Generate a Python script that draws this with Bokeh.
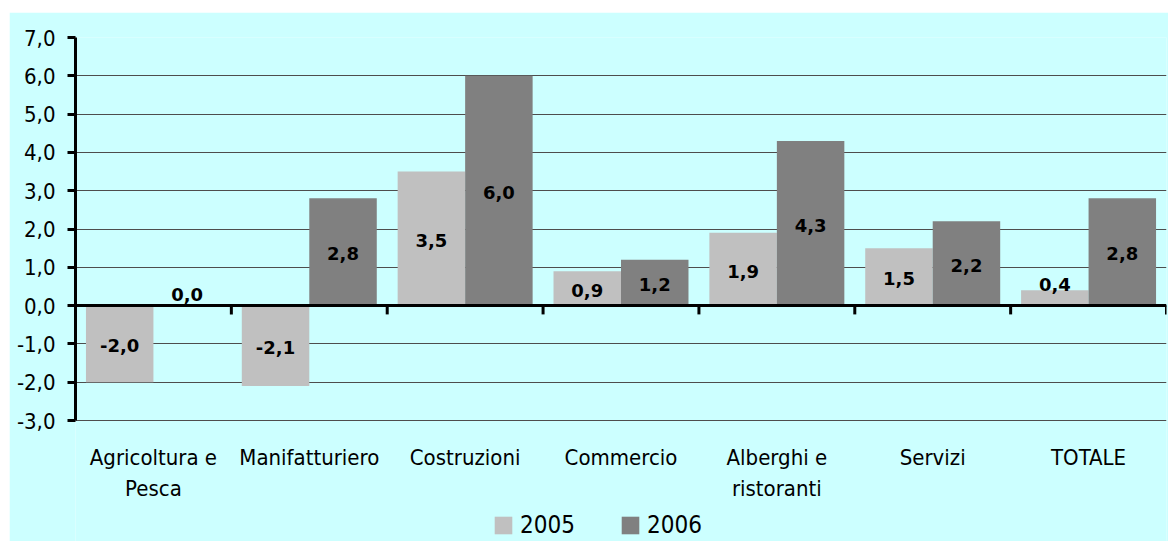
from bokeh.plotting import figure
from bokeh.models import (Range1d, FixedTicker, CustomJSTickFormatter, Span,
                          ColumnDataSource, Legend, LegendItem)
from bokeh.core.properties import value
from bokeh.embed import file_html
from bokeh.resources import INLINE

# ---- data ----
categories = ["Agricoltura e Pesca", "Manifatturiero", "Costruzioni", "Commercio",
              "Alberghi e ristoranti", "Servizi", "TOTALE"]
category_labels = ["Agricoltura e\nPesca", "Manifatturiero", "Costruzioni", "Commercio",
                   "Alberghi e\nristoranti", "Servizi", "TOTALE"]
series_names = ["2005", "2006"]
values_2005 = [-2.0, -2.1, 3.5, 0.9, 1.9, 1.5, 0.4]
values_2006 = [0.0, 2.8, 6.0, 1.2, 4.3, 2.2, 2.8]
y_ticks = [-3, -2, -1, 0, 1, 2, 3, 4, 5, 6, 7]

# ---- styles / layout ----
BG = "#CCFFFF"
COLORS = ["#C0C0C0", "#808080"]
AXIS_FONT = "DejaVu Sans Condensed"
LABEL_FONT = "DejaVu Sans"
Y_MIN, Y_MAX = y_ticks[0], y_ticks[-1]
W, H = 1159, 529
ML, MR, MT = 66, 2, 25
PLOT_H = 383                      # height of the value area (-3 .. 7)
BOTTOM_PX = H - MT - PLOT_H       # room under the value area for labels and legend
PX_PER_UNIT = PLOT_H / (Y_MAX - Y_MIN)
Y_VIEW_MIN = Y_MIN - BOTTOM_PX / PX_PER_UNIT
BAR_W = 0.433
N = len(categories)

p = figure(x_range=Range1d(0, N), y_range=Range1d(Y_VIEW_MIN, Y_MAX), x_axis_location=None,
           width=W, height=H, output_backend="svg", toolbar_location=None,
           min_border_left=ML, min_border_right=MR, min_border_top=MT, min_border_bottom=0,
           margin=(12, 0, 0, 9))
p.background_fill_color = BG
p.border_fill_color = BG
p.outline_line_color = None

# grid
p.xgrid.grid_line_color = None
p.ygrid.ticker = FixedTicker(ticks=y_ticks)
p.ygrid.grid_line_color = "#4d4d4d"
p.ygrid.grid_line_width = 1


def label_positions(vals):
    ys, offs = [], []
    for v in vals:
        vpx = abs(v) * PX_PER_UNIT
        if vpx < 24:
            desired = max(vpx + 6, 11) if v >= 0 else -max(vpx + 6, 11)
            ys.append(v)
            offs.append(-(desired - v * PX_PER_UNIT))
        else:
            ys.append(v / 2)
            offs.append(2)
    return ys, offs


fmt = lambda v: f"{v:.1f}".replace(".", ",")
centers = [i + 0.5 for i in range(N)]
y05, o05 = label_positions(values_2005)
y06, o06 = label_positions(values_2006)
src = ColumnDataSource(dict(
    cat=categories,
    x2005=[c - BAR_W / 2 for c in centers], x2006=[c + BAR_W / 2 for c in centers],
    v2005=values_2005, v2006=values_2006,
    y2005=y05, o2005=o05, t2005=[fmt(v) for v in values_2005],
    y2006=y06, o2006=o06, t2006=[fmt(v) for v in values_2006],
))

bar_renderers = []
for i, name in enumerate(series_names):
    r = p.vbar(x="x" + name, top="v" + name, bottom=0,
               width=BAR_W, source=src, fill_color=COLORS[i], line_color=None)
    bar_renderers.append(r)

for i, name in enumerate(series_names):
    p.text(x="x" + name, y="y" + name, text="t" + name,
           y_offset="o" + name, source=src,
           text_font=value(LABEL_FONT), text_font_style="bold", text_font_size="18px",
           text_align="center", text_baseline="middle", text_color="#000000")

# zero axis line and category boundary ticks
p.add_layout(Span(location=0, dimension="width", line_color="#000000", line_width=3))
bounds = list(range(1, N + 1))
p.segment(x0=bounds, y0=[0] * N, x1=bounds, y1=[-0.23] * N,
          line_color="#000000", line_width=3)

# y axis (limited to the value area)
yax = p.yaxis[0]
yax.bounds = (Y_MIN, Y_MAX)
yax.ticker = FixedTicker(ticks=y_ticks)
yax.formatter = CustomJSTickFormatter(code="return tick.toFixed(1).replace('.', ',');")
yax.axis_line_color = "#000000"
yax.axis_line_width = 3
yax.major_tick_line_color = "#000000"
yax.major_tick_line_width = 3
yax.major_tick_out = 8
yax.major_tick_in = 0
yax.minor_tick_line_color = None
yax.major_label_standoff = 12
yax.major_label_text_font = AXIS_FONT
yax.major_label_text_font_size = "22px"
yax.major_label_text_color = "#000000"

# category labels under the value area (line 1 / line 2)
line1 = [lab.split("\n")[0] for lab in category_labels]
line2 = [lab.split("\n")[1] if "\n" in lab else "" for lab in category_labels]
cat_src = ColumnDataSource(dict(x=centers, y=[Y_MIN] * N, l1=line1, l2=line2))
for col, off in (("l1", 36.5), ("l2", 67.5)):
    p.text(x="x", y="y", text=col, y_offset=off, source=cat_src,
           text_font=value(AXIS_FONT), text_font_size="22px", text_color="#000000",
           text_align="center", text_baseline="middle")

# legend
lg = Legend(items=[LegendItem(label=n, renderers=[r]) for n, r in zip(series_names, bar_renderers)],
            orientation="horizontal", location=(417, 2))
lg.glyph_width = 22
lg.glyph_height = 22
lg.label_standoff = 6
lg.spacing = 44
lg.padding = 0
lg.margin = 0
lg.border_line_color = None
lg.background_fill_alpha = 0
lg.label_text_font = AXIS_FONT
lg.label_text_font_size = "24px"
lg.label_text_color = "#000000"
p.add_layout(lg)

open("out.html", "w").write(file_html(p, INLINE))
